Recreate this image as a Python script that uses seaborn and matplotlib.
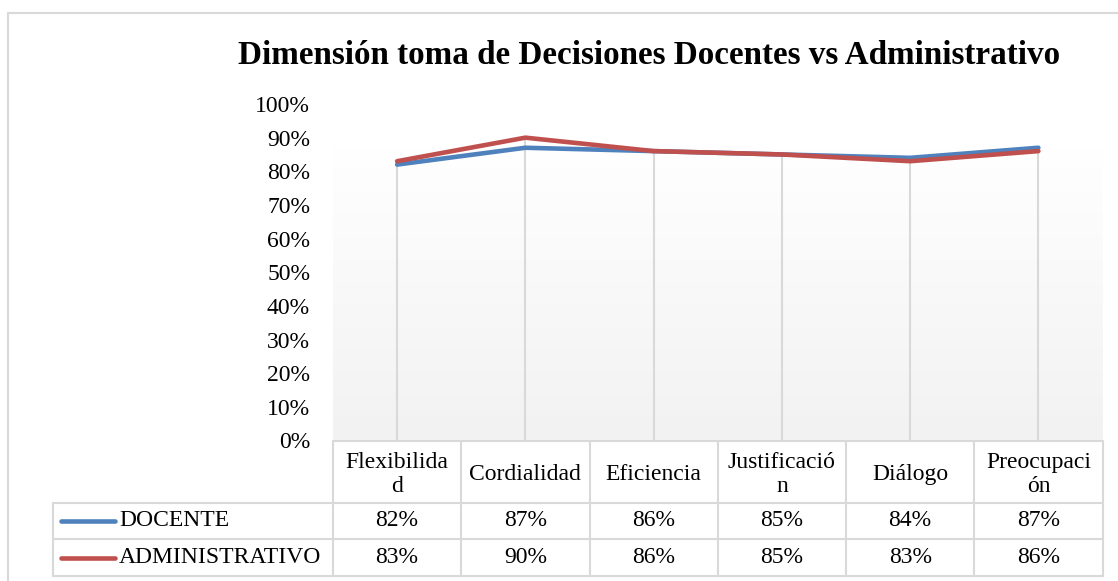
import numpy as np
import pandas as pd
import matplotlib.pyplot as plt
from matplotlib.colors import LinearSegmentedColormap
import seaborn as sns

# --- datos ---
categorias = ["Flexibilidad", "Cordialidad", "Eficiencia", "Justificación", "Diálogo", "Preocupación"]
etiquetas = ["Flexibilida\nd", "Cordialidad", "Eficiencia", "Justificació\nn", "Diálogo", "Preocupaci\nón"]
docente = [0.82, 0.87, 0.86, 0.85, 0.84, 0.87]
administrativo = [0.83, 0.90, 0.86, 0.85, 0.83, 0.86]
series = ["DOCENTE", "ADMINISTRATIVO"]
colores = ["#4f81bd", "#c0504d"]
titulo = "Dimensión toma de Decisiones Docentes vs Administrativo"

df = pd.DataFrame({
    "pos": list(range(len(categorias))) * 2,
    "valor": docente + administrativo,
    "serie": [series[0]] * len(categorias) + [series[1]] * len(categorias),
})

sns.set_style("white")
plt.rcParams["font.family"] = ["Liberation Serif", "DejaVu Serif"]
plt.rcParams["text.color"] = "black"
plt.rcParams["ytick.color"] = "black"
plt.rcParams["ytick.labelcolor"] = "black"

W, H = 1118, 581
fig = plt.figure(figsize=(W / 100, H / 100), dpi=100)

# capa de fondo en pixeles para marco y tabla
bg = fig.add_axes([0, 0, 1, 1])
bg.set_xlim(0, W)
bg.set_ylim(H, 0)
bg.axis("off")

gris = "#d9d9d9"
# marco exterior
bg.plot([8, 8], [13, H], color=gris, lw=1.5)
bg.plot([8, W], [13, 13], color=gris, lw=1.5)

# area del grafico
x0, x1, ytop, ybot = 333, 1102.5, 104, 440.5
ax = fig.add_axes([x0 / W, 1 - ybot / H, (x1 - x0) / W, (ybot - ytop) / H])
n = len(categorias)
ax.set_xlim(-0.5, n - 0.5)
ax.set_ylim(0, 1)

cmap = LinearSegmentedColormap.from_list("fondo", ["#f2f2f2", "#ffffff"])
grad = np.linspace(0, 1, 256).reshape(-1, 1)
ax.imshow(grad, cmap=cmap, origin="lower", aspect="auto",
          extent=[-0.5, n - 0.5, 0, 0.872], zorder=0)

# lineas de caida
maximos = np.maximum(docente, administrativo)
ax.vlines(range(n), 0, maximos, color=gris, lw=1.5, zorder=1)

sns.lineplot(data=df, x="pos", y="valor", hue="serie", palette=colores,
             linewidth=3.3, legend=False, sort=False, ax=ax, zorder=3)

ax.set_xticks([])
yt = np.arange(0, 1.01, 0.1)
ax.set_yticks(yt)
ax.set_yticklabels([f"{int(round(v * 100))}%" for v in yt], fontsize=17)
ax.tick_params(axis="y", length=0, pad=16.5)
ax.set_xlabel("")
ax.set_ylabel("")
for s in ax.spines.values():
    s.set_visible(False)
ax.set_facecolor("none")

fig.text(649 / W, 1 - 56 / H, titulo, ha="center", va="center",
         fontsize=23.9, fontweight="bold")

# --- tabla de datos ---
cw = (x1 - x0) / n
yh, yr1, yr2, yb = 441, 502.7, 539.3, 575.7
xl = 53
for y, xa in [(yh, x0), (yr1, xl), (yr2, xl), (yb, xl)]:
    bg.plot([xa, x1], [y, y], color=gris, lw=1.5)
bg.plot([xl, xl], [yr1, yb], color=gris, lw=1.5)
for k in range(n + 1):
    xc = x0 + k * cw
    bg.plot([xc, xc], [yh, yb], color=gris, lw=1.5)

for k, lab in enumerate(etiquetas):
    xc = x0 + (k + 0.5) * cw
    bg.text(xc, (yh + yr1) / 2 + 2.5, lab, ha="center", va="center",
            fontsize=17, linespacing=1.15)
    bg.text(xc, (yr1 + yr2) / 2, f"{int(round(docente[k] * 100))}%",
            ha="center", va="center", fontsize=17)
    bg.text(xc, (yr2 + yb) / 2, f"{int(round(administrativo[k] * 100))}%",
            ha="center", va="center", fontsize=17)

for ymid, nombre, col in [((yr1 + yr2) / 2, series[0], colores[0]),
                          ((yr2 + yb) / 2, series[1], colores[1])]:
    bg.plot([61, 115], [ymid, ymid], color=col, lw=3.3, solid_capstyle="round")
    bg.text(119, ymid, nombre, ha="left", va="center", fontsize=17)

fig.savefig("out.png", dpi=100)
